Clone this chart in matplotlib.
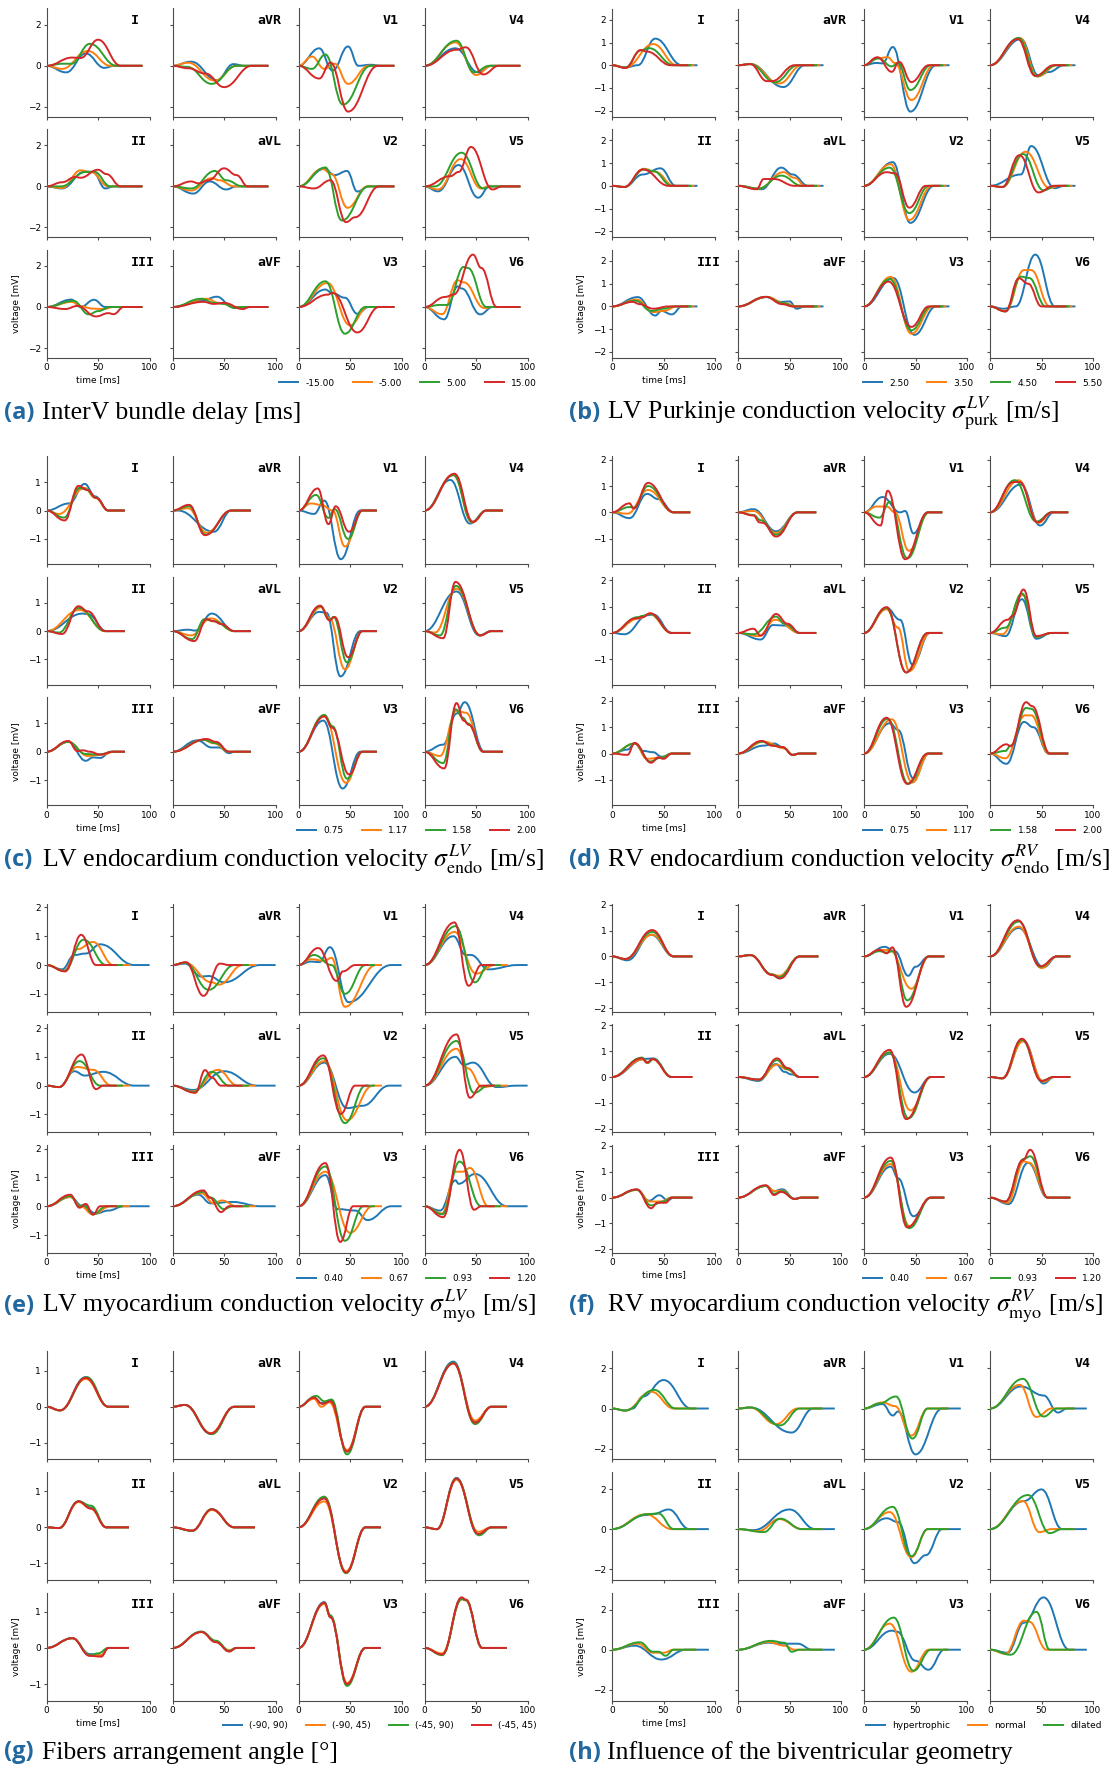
import matplotlib
matplotlib.use("Agg")
import matplotlib.pyplot as plt
from matplotlib.path import Path
from matplotlib.patches import PathPatch
from matplotlib.lines import Line2D
from matplotlib.ticker import MultipleLocator

plt.rcParams['mathtext.fontset'] = 'stix'

LEADS = [['I', 'aVR', 'V1', 'V4'],
         ['II', 'aVL', 'V2', 'V5'],
         ['III', 'aVF', 'V3', 'V6']]
COLORS = ['tab:blue', 'tab:orange', 'tab:green', 'tab:red']

# Each trace: turning points t0, v0, t1, v1, ... (ms, mV). Trace starts at (0, 0)
# and stays at 0 after its last point until the end of the simulation.

# (a) interventricular bundle delay
interv_delay = {
    'I':   [[19, -.32, 38, .6, 56, -.1, 66, 0], [15, -.15, 40, .72, 62, 0],
            [15, .1, 24, .1, 42, 1.07, 68, 0], [25, .4, 33, .38, 50, 1.27, 72, 0]],
    'aVR': [[18, .2, 43, -.7, 59, .08, 70, 0], [15, .15, 41, -.72, 62, 0],
            [14, -.05, 38, -.88, 62, 0], [15, -.12, 32, -.38, 50, -1.04, 77, 0]],
    'V1':  [[20, .85, 33, -.23, 48, .94, 58, 0, 70, .05, 80, 0], [13, .45, 25, -.15, 35, .1, 48, -.88, 68, 0],
            [13, -.15, 26, .55, 43, -1.89, 70, 0], [20, -.62, 31, .16, 48, -2.23, 77, 0]],
    'V4':  [[30, .85, 52, -.32, 65, 0], [30, 1.14, 50, -.45, 65, 0],
            [31, 1.22, 48, -.32, 63, 0], [31, .78, 40, .9, 57, -.42, 72, 0]],
    'II':  [[15, -.1, 37, .72, 45, .7, 57, -.1, 65, 0], [15, -.08, 33, .78, 43, .7, 60, 0],
            [14, 0, 38, .7, 46, .72, 62, 0], [15, .2, 28, .46, 33, .42, 50, .81, 58, .6, 72, 0]],
    'aVL': [[20, -.35, 36, .24, 52, -.15, 62, 0], [18, -.2, 38, .4, 45, .3, 60, 0],
            [18, -.1, 41, .75, 52, .3, 68, 0], [18, .24, 25, .15, 35, .3, 50, .88, 62, .55, 73, 0]],
    'V2':  [[25, .85, 35, .55, 47, .75, 57, -.25, 68, 0], [23, .85, 32, .6, 47.5, -1.04, 67, 0],
            [26, .92, 42, -1.66, 68, 0], [15, -.1, 31, .3, 46, -1.74, 55, -1.5, 78, 0]],
    'V5':  [[13, -.24, 33, 1.04, 52, -.55, 63, 0], [13, -.15, 35, 1.33, 55, -.1, 62, 0],
            [10, 0, 36, 1.64, 57, -.1, 65, 0], [25, .5, 33, .7, 45, 1.92, 66, -.15, 75, 0]],
    'III': [[24, .36, 33, 0, 46, .35, 57, 0], [25, .25, 32, .05, 45, -.08, 55, -.1, 65, 0],
            [26, .3, 41, -.36, 50, -.2, 62, 0], [18, -.1, 30, .05, 48, -.46, 60, -.3, 65, -.35, 75, 0]],
    'aVF': [[28, .3, 43, .5, 58, 0], [33, .4, 45, .2, 55, .1, 60, -.05, 66, 0],
            [28, .4, 40, .2, 50, .15, 60, -.05, 68, 0], [30, .25, 40, .15, 50, .2, 68, -.1, 75, 0]],
    'V3':  [[26, .85, 32, .7, 45, .45, 57, -.33, 68, 0], [28, 1.17, 50, -.89, 67, 0],
            [26, 1.25, 45, -1.3, 65, 0], [28, .6, 33, .68, 57, -1.24, 78, 0]],
    'V6':  [[19, -.6, 32, 1.0, 36, .9, 54, -.36, 66, 0], [17, -.35, 32, 1.3, 38, 1.2, 58, -.05, 66, 0],
            [15, .1, 22, .1, 38, 1.95, 42, 1.9, 60, 0], [20, .49, 28, .6, 47, 2.55, 55, 1.9, 70, 0]],
}
interv_labels = ['-15.00', '-5.00', '5.00', '15.00']
interv_end = [93, 93, 93, 93]

# (b) LV Purkinje conduction velocity
purk_velocity = {
    'I':   [[13, -.1, 25, 0, 42, 1.17, 68, 0], [13, -.1, 40, .93, 63, 0],
            [13, -.1, 28, .65, 36, .75, 60, 0], [13, -.12, 28, .67, 34, .6, 57, 0]],
    'aVR': [[12, .05, 44, -.96, 65, 0], [12, .05, 40, -.8, 62, 0],
            [12, .05, 36, -.75, 58, 0], [12, .05, 28, -.7, 33, -.7, 55, 0]],
    'V1':  [[12, .1, 18, .08, 28, .8, 45, -2.04, 70, 0], [12, .3, 23, .35, 30, .1, 46, -1.53, 68, 0],
            [14, .3, 27, -.05, 33, .1, 45, -1.09, 65, 0], [13, .35, 27, -.29, 34, .15, 46, -.74, 63, 0]],
    'V4':  [[30, 1.15, 47, -.45, 57, -.3, 72, 0], [29, 1.2, 46, -.5, 65, 0],
            [28, 1.2, 45, -.48, 64, 0], [27, 1.15, 44, -.47, 62, 0]],
    'II':  [[12, -.05, 30, .5, 47, .77, 62, 0], [12, -.05, 31, .75, 42, .62, 60, 0],
            [12, -.05, 31, .72, 40, .65, 58, 0], [12, -.05, 30, .72, 55, 0]],
    'aVL': [[23, -.15, 42, .8, 53, .5, 68, 0], [20, -.12, 44, .6, 55, .35, 65, 0],
            [20, -.12, 42, .45, 62, 0], [18, -.15, 25, .3, 35, .3, 55, 0]],
    'V2':  [[28, 1.04, 45, -1.63, 68, 0], [26, .95, 44, -1.5, 66, 0],
            [25, .8, 44, -1.2, 63, 0], [22, .6, 30, .55, 44, -.96, 60, 0]],
    'V5':  [[30, .5, 40, 1.75, 63, -.1, 72, 0], [12, -.05, 34.5, 1.5, 58, -.1, 67, 0],
            [12, -.05, 32, 1.4, 52, -.2, 64, 0], [12, -.05, 28.6, 1.35, 47, -.29, 62, 0]],
    'III': [[25, .41, 42, -.4, 48, -.2, 58, -.35, 68, 0], [24, .3, 40, -.25, 50, -.2, 63, 0],
            [23, .25, 38, -.2, 50, -.1, 60, 0], [20, .2, 27, .1, 40, -.1, 55, 0]],
    'aVF': [[28, .41, 42, .2, 50, .22, 57, -.1, 65, 0], [28, .42, 45, .15, 57, 0],
            [27, .42, 43, .15, 55, 0], [27, .42, 43, .1, 53, 0]],
    'V3':  [[28.6, 1.25, 49, -1.25, 70, 0], [26, 1.3, 46, -1.2, 67, 0],
            [25, 1.2, 46, -1.05, 65, 0], [24, 1.09, 46, -.9, 63, 0]],
    'V6':  [[13, -.1, 25, 0, 44, 2.28, 63, 0], [15, -.2, 33, 1.6, 40, 1.6, 58, 0],
            [15, -.22, 30, 1.31, 38, 1.25, 54, 0], [15, -.22, 28, 1.24, 37, 1.0, 50, 0]],
}
purk_labels = ['2.50', '3.50', '4.50', '5.50']
purk_end = [83, 80, 77, 74]

# (c) LV endocardium conduction velocity
lv_endo_velocity = {
    'I':   [[22, .25, 37, .94, 47, .5, 60, 0], [12, -.12, 37, .8, 47, .45, 60, 0],
            [17, -.25, 32, .8, 38, .75, 48, .45, 60, 0], [17.6, -.35, 31, .87, 40, .72, 48, .45, 60, 0]],
    'aVR': [[5, 0, 40, -.75, 57, 0], [15, .08, 33, -.78, 57, 0],
            [16, .15, 32, -.85, 57, 0], [16, .2, 31.5, -.87, 57, 0]],
    'V1':  [[15, -.12, 25, .35, 41, -1.72, 60, 0], [12, .25, 22, .2, 33, 0, 45, -1.27, 62, 0],
            [17, .55, 29, -.26, 35, .05, 48, -1.0, 62, 0], [18.6, .78, 29, -.48, 36, .15, 49, -.75, 62, 0]],
    'V4':  [[25, 1.08, 44, -.46, 60, 0], [28, 1.25, 46, -.42, 60, 0],
            [28, 1.25, 46, -.4, 60, 0], [29, 1.3, 47, -.4, 60, 0]],
    'II':  [[35, .62, 40, .6, 58, 0], [32, .75, 57, 0],
            [12, -.05, 31, .82, 57, 0], [15, -.1, 31, .88, 40, .7, 57, 0]],
    'aVL': [[15, .05, 22, .02, 38, .62, 60, 0], [18, -.15, 37, .45, 60, 0],
            [19, -.28, 31, .42, 40, .35, 60, 0], [21, -.35, 33, .42, 40, .35, 47, .25, 60, 0]],
    'V2':  [[20, .68, 27, .65, 40.7, -1.6, 60, 0], [22, .85, 30, .45, 45, -1.35, 62, 0],
            [21, .88, 30, .4, 34, .5, 47, -1.1, 62, 0], [21, .9, 30, .38, 35, .5, 48, -.92, 62, 0]],
    'V5':  [[31, 1.4, 53, -.15, 65, 0], [10, -.05, 31, 1.5, 54, -.15, 65, 0],
            [15, -.15, 30.5, 1.6, 54, -.15, 65, 0], [18, -.25, 30, 1.74, 54, -.15, 65, 0]],
    'III': [[21, .35, 38, -.32, 45, -.2, 52, -.22, 62, 0], [21, .35, 40, -.15, 55, -.1, 65, 0],
            [21, .35, 38, -.08, 50, -.1, 65, 0], [21, .38, 30, .02, 35, .05, 42, 0, 52, -.1, 65, 0]],
    'aVF': [[24, .4, 38, .15, 45, .15, 55, -.05, 60, 0], [30, .42, 40, .3, 55, 0],
            [30, .42, 42, .3, 55, 0], [33, .45, 42, .35, 55, 0]],
    'V3':  [[24, 1.1, 42.7, -1.3, 60, 0], [25, 1.25, 46, -1.1, 62, 0],
            [25, 1.3, 33, .9, 47, -.95, 62, 0], [25, 1.25, 32.5, .85, 49, -.8, 62, 0]],
    'V6':  [[18, .25, 31, 1.35, 39, 1.75, 58, 0], [15, -.15, 31, 1.45, 40, 1.38, 57, 0],
            [18, -.4, 30, 1.5, 37, 1.2, 42, 1.0, 57, 0], [19, -.59, 31, 1.72, 38, 1.1, 43, .95, 57, 0]],
}
lv_endo_labels = ['0.75', '1.17', '1.58', '2.00']
lv_endo_end = [76, 76, 76, 76]

# (d) RV endocardium conduction velocity
rv_endo_velocity = {
    'I':   [[17, -.22, 34, .7, 45, .5, 60, 0], [15, -.05, 35, .85, 60, 0],
            [17, .2, 21, .18, 35, 1.0, 60, 0], [17, .34, 21, .15, 35, 1.12, 60, 0]],
    'aVR': [[15, .12, 37, -.72, 58, 0], [15, .05, 37, -.78, 58, 0],
            [15, -.1, 22, -.3, 37, -.85, 58, 0], [15, -.12, 21, -.38, 24, -.4, 37, -.92, 58, 0]],
    'V1':  [[18, .58, 35, 0, 40, .05, 48, -.8, 62, 0], [12, .22, 22, .22, 30, 0, 43.5, -1.46, 63, 0],
            [15, -.2, 25, .4, 42, -1.75, 63, 0], [16, -.5, 23, .82, 40, -1.78, 62, 0]],
    'V4':  [[30, 1.06, 48.6, -.5, 62, 0], [28, 1.22, 47, -.4, 60, 0],
            [24, 1.22, 45, -.35, 60, 0], [23, 1.15, 29, 1.15, 46, -.38, 60, 0]],
    'II':  [[12, -.05, 35, .68, 40, .7, 58, 0], [26, .55, 36, .72, 58, 0],
            [25, .6, 30, .65, 37, .72, 58, 0], [23, .55, 30, .6, 37, .75, 58, 0]],
    'aVL': [[22, -.25, 34, .3, 45, .28, 60, 0], [20, -.12, 36, .5, 60, 0],
            [15, -.05, 37, .62, 45, .35, 60, 0], [15, .16, 22, -.1, 37, .72, 48, .35, 60, 0]],
    'V2':  [[22, .95, 35, .5, 47, -1.2, 64, 0], [22, .9, 33, .2, 44, -1.45, 64, 0],
            [22, .95, 41, -1.5, 62, 0], [22, .98, 41, -1.5, 62, 0]],
    'V5':  [[15, -.12, 31, 1.28, 45, -.22, 60, 0], [12, -.05, 32, 1.45, 45, -.15, 60, 0],
            [15, .2, 31, 1.5, 45, -.15, 60, 0], [17, .5, 22, .65, 32.5, 1.65, 45, -.12, 60, 0]],
    'III': [[15, .15, 22, .38, 30, .1, 40, .05, 48, -.12, 60, 0], [22, .38, 34, -.2, 48, -.15, 58, 0],
            [22, .38, 37, -.3, 48, -.15, 58, 0], [15, -.05, 22, .4, 38, -.35, 45, -.15, 50, -.2, 58, 0]],
    'aVF': [[25, .3, 35, .38, 45, .2, 53, -.05, 60, 0], [25, .45, 45, .2, 53, -.05, 60, 0],
            [23, .45, 35, .3, 43, .25, 53, -.05, 60, 0], [23, .48, 33, .3, 43, .25, 53, -.05, 60, 0]],
    'V3':  [[25, 1.15, 33, .9, 48, -.95, 63, 0], [27, 1.3, 47, -1.1, 63, 0],
            [23, 1.32, 43, -1.15, 62, 0], [22, 1.36, 42, -1.15, 62, 0]],
    'V6':  [[16, -.39, 33, 1.2, 42, 1.0, 57, 0], [15, -.18, 34, 1.45, 40, 1.45, 57, 0],
            [15, .1, 20, .3, 35, 1.73, 40, 1.7, 58, 0], [16, .35, 20, .28, 35, 1.95, 41, 1.8, 58, 0]],
}
rv_endo_labels = ['0.75', '1.17', '1.58', '2.00']
rv_endo_end = [76, 76, 76, 76]

# (e) LV myocardium conduction velocity
lv_myo_velocity = {
    'I':   [[15, -.15, 27, .35, 38, .4, 52, .72, 85, 0], [17, -.2, 30, .55, 45, .8, 65, 0],
            [17, -.2, 36, .88, 58, 0], [18, -.22, 33.6, 1.05, 48, 0]],
    'aVR': [[12, .05, 28, -.4, 35, -.38, 50, -.6, 85, 0], [12, .08, 38, -.6, 45, -.68, 68, 0],
            [12, .08, 35, -.86, 60, 0], [13, .1, 30, -1.07, 46, .05, 55, 0]],
    'V1':  [[12, .12, 20, .1, 30.5, .62, 48.5, -1.29, 90, 0], [12, .2, 25, .15, 32, .25, 45, -1.45, 75, 0],
            [15, .35, 32, 0, 45, -1.0, 65, 0], [19, .59, 37, -.55, 43, -.22, 55, 0]],
    'V4':  [[28, 1.0, 40, .35, 45, .35, 62, -.15, 90, 0], [29, 1.15, 50, -.3, 68, 0],
            [30, 1.35, 48.8, -.6, 62, 0], [29, 1.48, 42.7, -.72, 55, 0]],
    'II':  [[12, -.05, 27, .5, 37, .35, 55, .48, 85, 0], [12, -.05, 30, .65, 45, .55, 63, 0],
            [12, -.05, 32, .85, 52, 0], [12, -.05, 34, 1.08, 48, -.12, 55, 0]],
    'aVL': [[20, -.15, 50, .5, 82, 0], [20, -.2, 44, .55, 63, 0],
            [21, -.22, 38, .48, 55, 0], [22, -.25, 31.5, .54, 38, .28, 47, 0]],
    'V2':  [[25, .8, 47, -.78, 62, -.7, 88, 0], [25, .85, 47, -1.2, 72, 0],
            [24, .95, 45, -1.3, 65, 0], [24, 1.05, 41, -.98, 55, 0]],
    'V5':  [[30, 1.0, 38, .72, 47, .8, 70, -.05, 90, 0], [31, 1.28, 42, .6, 56, -.05, 70, 0],
            [31, 1.55, 48, -.25, 62, 0], [31, 1.78, 44, -.42, 55, 0]],
    'III': [[23, .32, 35, 0, 48, -.25, 60, -.15, 75, 0], [23, .32, 33, 0, 45, -.28, 62, 0],
            [23, .35, 32, 0, 36, .05, 45, -.28, 58, 0], [23, .4, 32, -.05, 38, .08, 45, -.29, 52, 0]],
    'aVF': [[25, .4, 37, .1, 58, .15, 85, 0], [28, .45, 40, .1, 48, .2, 62, 0],
            [30, .5, 37, .3, 50, -.1, 58, 0], [30, .55, 36, .3, 47, -.2, 55, 0]],
    'V3':  [[26, 1.08, 38, -.1, 55, -.15, 67, -.48, 90, 0], [26, 1.2, 50, -.92, 72, 0],
            [26, 1.38, 45, -1.2, 63, 0], [26, 1.5, 40.5, -1.24, 53, 0]],
    'V6':  [[15, -.15, 30, .9, 33, .78, 49, 1.12, 80, 0], [17, -.25, 30, 1.2, 37, 1.2, 44, 1.33, 62, 0],
            [17, -.28, 34, 1.55, 55, 0], [18, -.38, 34, 1.96, 48, -.12, 55, 0]],
}
lv_myo_labels = ['0.40', '0.67', '0.93', '1.20']
lv_myo_end = [100, 81, 74, 68]

# (f) RV myocardium conduction velocity
rv_myo_velocity = {
    'I':   [[15, -.15, 38, .84, 60, 0], [13, -.1, 39, .84, 60, 0],
            [13, -.1, 39, .95, 60, 0], [13, -.1, 39, 1.02, 60, 0]],
    'aVR': [[12, .05, 33, -.7, 40, -.85, 60, 0], [12, .05, 33, -.7, 40, -.75, 60, 0],
            [12, .05, 33, -.7, 40, -.8, 60, 0], [12, .05, 33, -.72, 41, -.85, 60, 0]],
    'V1':  [[20, .37, 30, .2, 43, -.75, 50, -.4, 63, 0], [15, .25, 25, .25, 46, -1.25, 63, 0],
            [15, .2, 22, .15, 28, .2, 42, -1.7, 63, 0], [15, .25, 22, .12, 27.5, .35, 41, -1.95, 63, 0]],
    'V4':  [[28, 1.1, 52, -.42, 65, 0], [28, 1.15, 50, -.45, 65, 0],
            [28, 1.35, 49, -.4, 65, 0], [27, 1.4, 49, -.38, 65, 0]],
    'II':  [[32, .7, 40, .72, 58, 0], [30, .68, 35, .58, 40, .68, 58, 0],
            [29, .75, 35, .55, 40, .7, 58, 0], [29, .72, 34, .55, 39, .7, 58, 0]],
    'aVL': [[20, -.15, 37, .5, 45, .2, 52, .1, 60, 0], [20, -.1, 38, .48, 47, .3, 60, 0],
            [20, -.1, 38, .65, 48, .3, 60, 0], [20, -.1, 38, .72, 48, .35, 60, 0]],
    'V2':  [[25, .9, 49, -.6, 65, 0], [25, .95, 45, -1.29, 65, 0],
            [25, .95, 43, -1.6, 65, 0], [25, 1.05, 41, -1.63, 65, 0]],
    'V5':  [[12, -.05, 32, 1.43, 52, -.25, 62, 0], [12, -.05, 32, 1.38, 52, -.18, 62, 0],
            [12, -.05, 31, 1.45, 50, -.15, 62, 0], [12, -.05, 31, 1.48, 50, -.15, 62, 0]],
    'III': [[24, .31, 36, -.12, 46, .09, 54, -.1, 60, 0], [24, .3, 37, -.15, 48, -.15, 58, 0],
            [24, .3, 38, -.3, 50, -.15, 58, 0], [24, .32, 38, -.41, 44, -.2, 52, -.2, 58, 0]],
    'aVF': [[27, .45, 35, .25, 43, .32, 55, -.05, 62, 0], [27, .45, 36, .25, 43, .27, 55, -.05, 62, 0],
            [27, .45, 35, .15, 43, .25, 55, -.05, 62, 0], [27, .48, 35, .1, 42, .22, 55, -.05, 62, 0]],
    'V3':  [[26, 1.2, 33, .75, 48, -.72, 65, 0], [26, 1.3, 44, -1.1, 65, 0],
            [26, 1.42, 44, -1.18, 65, 0], [26, 1.55, 42, -1.15, 65, 0]],
    'V6':  [[18, -.25, 37, 1.35, 56, 0], [17, -.2, 33, 1.4, 38, 1.35, 56, 0],
            [15, -.15, 33, 1.5, 39, 1.6, 56, 0], [15, -.15, 32, 1.45, 39, 1.85, 56, 0]],
}
rv_myo_labels = ['0.40', '0.67', '0.93', '1.20']
rv_myo_end = [78, 78, 78, 78]

# (g) fibers arrangement angle
fiber_angle = {
    'I':   [[13, -.1, 38, .82, 60, 0], [13, -.1, 38, .77, 60, 0],
            [13, -.1, 39, .82, 60, 0], [13, -.1, 38, .8, 60, 0]],
    'aVR': [[12, .05, 37, -.75, 60, 0], [12, .05, 37, -.73, 60, 0],
            [12, .05, 38, -.76, 60, 0], [12, .05, 37, -.74, 60, 0]],
    'V1':  [[15, .25, 22, .1, 31, .17, 47, -1.24, 65, 0], [15, .22, 22, 0, 30, .12, 47, -1.2, 65, 0],
            [17, .3, 25, .15, 32, .2, 47, -1.32, 65, 0], [15, .25, 23, .08, 31, .15, 47, -1.24, 65, 0]],
    'V4':  [[28, 1.25, 49, -.42, 65, 0], [28, 1.2, 49, -.38, 65, 0],
            [28, 1.22, 49, -.48, 65, 0], [28, 1.2, 49, -.44, 65, 0]],
    'II':  [[12, -.02, 31, .72, 43, .55, 58, 0], [12, -.02, 31, .7, 43, .52, 58, 0],
            [12, -.02, 31, .72, 43, .6, 58, 0], [12, -.02, 31, .72, 43, .52, 58, 0]],
    'aVL': [[19, -.09, 38, .5, 60, 0], [19, -.09, 38, .48, 60, 0],
            [19, -.1, 38, .5, 60, 0], [19, -.09, 38, .5, 60, 0]],
    'V2':  [[25, .81, 46, -1.25, 65, 0], [25, .72, 46, -1.22, 65, 0],
            [25, .85, 46, -1.27, 65, 0], [25, .8, 46, -1.25, 65, 0]],
    'V5':  [[12, -.05, 31, 1.37, 52, -.2, 65, 0], [12, -.05, 31, 1.32, 52, -.12, 65, 0],
            [12, -.05, 31, 1.35, 53, -.22, 65, 0], [12, -.05, 31, 1.35, 52, -.18, 65, 0]],
    'III': [[25, .27, 42, -.17, 53, -.2, 60, 0], [25, .27, 42, -.2, 53, -.2, 60, 0],
            [25, .27, 42, -.2, 50, -.15, 60, 0], [25, .27, 42, -.22, 53, -.24, 60, 0]],
    'aVF': [[28, .45, 42, .18, 55, -.08, 62, 0], [28, .44, 42, .16, 55, -.06, 62, 0],
            [28, .45, 42, .2, 55, -.08, 62, 0], [28, .44, 42, .16, 55, -.1, 62, 0]],
    'V3':  [[25, 1.27, 31, .85, 47, -1.0, 65, 0], [25, 1.22, 31, .85, 47, -.97, 65, 0],
            [25, 1.25, 31, .9, 47, -1.05, 65, 0], [25, 1.25, 31, .85, 47, -1.0, 65, 0]],
    'V6':  [[17, -.18, 36, 1.38, 40, 1.32, 56, 0], [17, -.15, 36, 1.35, 40, 1.32, 56, 0],
            [17, -.2, 36, 1.35, 40, 1.33, 56, 0], [17, -.18, 36, 1.4, 40, 1.34, 56, 0]],
}
fiber_labels = ['(-90, 90)', '(-90, 45)', '(-45, 90)', '(-45, 45)']
fiber_end = [80, 80, 80, 80]

# (h) biventricular geometry
geometry = {
    'I':   [[13, -.1, 20, 0, 30, .6, 50, 1.42, 77, 0], [13, -.1, 38, .84, 60, 0],
            [13, -.1, 41, .93, 62, 0]],
    'aVR': [[12, .05, 52, -1.2, 73, 0], [12, .05, 37, -.78, 58, 0],
            [12, .05, 41, -.84, 60, 0]],
    'V1':  [[18, .22, 28, -.35, 33, -.15, 50, -2.29, 76, 0], [18, .3, 30, .12, 46, -1.35, 62, 0],
            [15, .25, 31, .6, 47, -1.5, 62, 0]],
    'V4':  [[30, 1.1, 52, .65, 66, -.2, 75, 0], [29, 1.18, 45, -.42, 60, 0],
            [32, 1.48, 52, -.4, 65, 0]],
    'II':  [[33, .7, 40, .75, 55, .98, 75, 0], [33, .74, 58, 0],
            [35, .75, 45, .78, 60, 0]],
    'aVL': [[15, -.05, 50, .98, 75, 0], [20, -.1, 40, .5, 62, 0],
            [25, -.15, 41, .52, 62, 0]],
    'V2':  [[22, .54, 33, .35, 49, -1.7, 60, -1.3, 76, 0], [25, .85, 46, -1.4, 62, 0],
            [28, 1.11, 46, -1.35, 62, 0]],
    'V5':  [[33, 1.4, 50, 1.98, 70, 0], [32, 1.4, 48, -.15, 60, 0],
            [37, 1.7, 58, -.2, 70, 0]],
    'III': [[22, .2, 48, -.49, 72, 0], [25, .3, 40, -.15, 50, -.15, 60, 0],
            [27, .37, 40, -.1, 45, -.1, 52, -.3, 60, 0]],
    'aVF': [[30, .35, 40, .3, 58, .3, 72, 0], [30, .38, 45, .2, 55, 0],
            [32, .44, 45, .35, 52, -.1, 60, 0]],
    'V3':  [[27, .95, 32, .9, 50, -.55, 62.5, -1.0, 78, 0], [25, 1.3, 46, -1.1, 63, 0],
            [29, 1.6, 48, -1.05, 65, 0]],
    'V6':  [[17, -.15, 33, 1.35, 52, 2.61, 77, 0], [15, -.2, 33, 1.45, 38, 1.4, 55, 0],
            [20, -.25, 45, 1.89, 58, 0]],
}
geometry_labels = ['hypertrophic', 'normal', 'dilated']
geometry_end = [94, 82, 82]

PANELS = [
    (interv_delay, interv_labels, interv_end, 2, '(a)', 'InterV bundle delay [ms]'),
    (purk_velocity, purk_labels, purk_end, 1, '(b)',
     r'LV Purkinje conduction velocity $\sigma_{\mathrm{purk}}^{LV}$ [m/s]'),
    (lv_endo_velocity, lv_endo_labels, lv_endo_end, 1, '(c)',
     r'LV endocardium conduction velocity $\sigma_{\mathrm{endo}}^{LV}$ [m/s]'),
    (rv_endo_velocity, rv_endo_labels, rv_endo_end, 1, '(d)',
     r'RV endocardium conduction velocity $\sigma_{\mathrm{endo}}^{RV}$ [m/s]'),
    (lv_myo_velocity, lv_myo_labels, lv_myo_end, 1, '(e)',
     r'LV myocardium conduction velocity $\sigma_{\mathrm{myo}}^{LV}$ [m/s]'),
    (rv_myo_velocity, rv_myo_labels, rv_myo_end, 1, '(f)',
     r'RV myocardium conduction velocity $\sigma_{\mathrm{myo}}^{RV}$ [m/s]'),
    (fiber_angle, fiber_labels, fiber_end, 1, '(g)', 'Fibers arrangement angle [°]'),
    (geometry, geometry_labels, geometry_end, 2, '(h)', 'Influence of the biventricular geometry'),
]

W, H = 1115, 1768
fig = plt.figure(figsize=(W / 100, H / 100), dpi=100)


def trace_path(points, t_end):
    # smooth path through the turning points (flat tangent at each one)
    t = [0] + list(points[0::2]) + [t_end]
    v = [0] + list(points[1::2]) + [0]
    verts = [(t[0], v[0])]
    codes = [Path.MOVETO]
    for i in range(1, len(t)):
        d = (t[i] - t[i - 1]) * 0.42
        verts += [(t[i - 1] + d, v[i - 1]), (t[i] - d, v[i]), (t[i], v[i])]
        codes += [Path.CURVE4] * 3
    return Path(verts, codes)


def draw_panel(traces, labels, ends, ystep, x0, y0):
    values = [v for curves in traces.values() for pts in curves for v in pts[1::2]] + [0]
    lo, hi = min(values), max(values)
    pad = 0.05 * (hi - lo)
    for r, row in enumerate(LEADS):
        for c, lead in enumerate(row):
            left = x0 + c * 126
            top = y0 + 8.5 + r * 120.6
            ax = fig.add_axes([left / W, 1 - (top + 108) / H, 103 / W, 108 / H])
            for k, pts in enumerate(traces[lead]):
                ax.add_patch(PathPatch(trace_path(pts, ends[k]), fill=False,
                                       edgecolor=COLORS[k], lw=1.4, zorder=2 + k))
            ax.set_xlim(0, 100)
            ax.set_ylim(lo - pad, hi + pad)
            ax.set_xticks([0, 50, 100])
            ax.yaxis.set_major_locator(MultipleLocator(ystep))
            for s in ('top', 'right'):
                ax.spines[s].set_visible(False)
            for s in ('left', 'bottom'):
                ax.spines[s].set_color('0.3')
                ax.spines[s].set_linewidth(0.8)
            ax.tick_params(length=2.5, width=0.8, pad=1.5, labelsize=6.5, color='0.3')
            if c > 0:
                ax.tick_params(labelleft=False)
            if r < 2:
                ax.tick_params(labelbottom=False)
            if c == 0 and r == 2:
                ax.set_xlabel('time [ms]', fontsize=6.5, labelpad=2)
                ax.set_ylabel('voltage [mV]', fontsize=6.5, labelpad=5)
            ax.text(0.82, 0.886, lead, transform=ax.transAxes, family='DejaVu Sans Mono',
                    weight='bold', fontsize=9.5, ha='left', va='center')

    handles = [Line2D([], [], color=COLORS[k], lw=1.4) for k in range(len(labels))]
    fig.legend(handles, labels, loc='center right',
               bbox_to_anchor=((x0 + 3 * 126 + 103 + 9) / W, 1 - (y0 + 383) / H),
               ncol=len(labels), frameon=False, fontsize=6.5, handlelength=2.1,
               handletextpad=0.8, columnspacing=2.0, borderpad=0, borderaxespad=0)


for i, (traces, labels, ends, ystep, tag, caption) in enumerate(PANELS):
    col, row = i % 2, i // 2
    x0 = 46.6 if col == 0 else 612
    y0 = row * 447.6
    draw_panel(traces, labels, ends, ystep, x0, y0)
    tx = 4 if col == 0 else 569
    ty = 1 - (413 + row * 446.5) / H
    fig.text(tx / W, ty, tag, family='Open Sans', weight='bold', fontsize=17,
             color='#21689f', va='center')
    fig.text((tx + 38) / W, ty, caption, family='Liberation Serif', fontsize=18.5, va='center')

fig.savefig('out.png', dpi=100)
